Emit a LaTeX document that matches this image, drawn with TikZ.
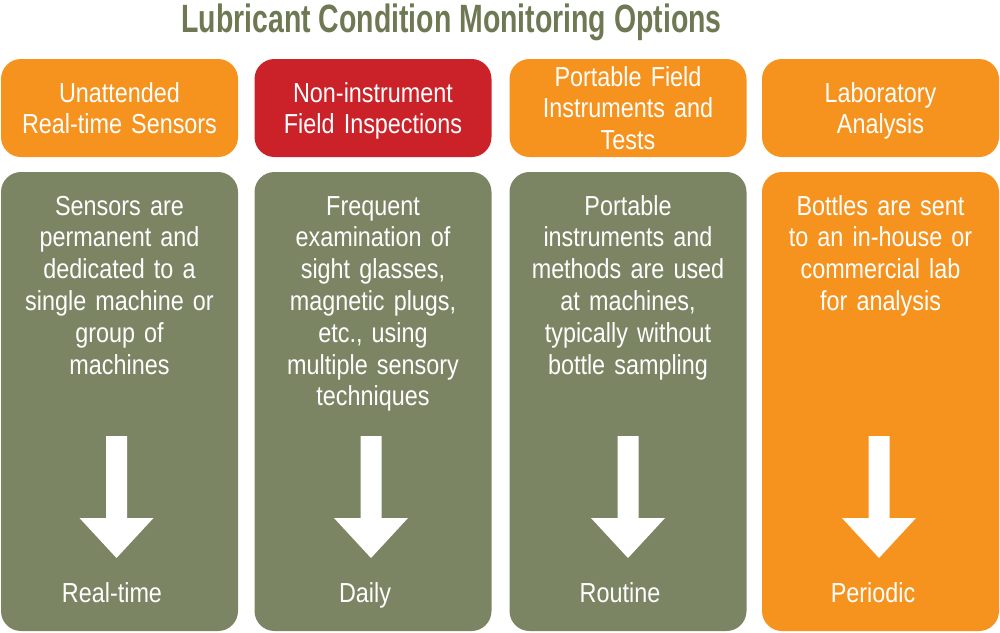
\documentclass[tikz,border=0pt]{standalone}
\usepackage{fontspec}
\setmainfont{Liberation Sans}
\newfontfamily\condfont[FakeStretch=0.85]{Liberation Sans}
\newfontfamily\titlefont[FakeStretch=0.72]{Liberation Sans}
\definecolor{olive}{RGB}{123,133,99}
\definecolor{titleolive}{RGB}{110,121,84}
\definecolor{lorange}{RGB}{246,147,30}
\definecolor{lred}{RGB}{203,34,42}
\tikzset{
  hdrbox/.style={rounded corners=20pt, minimum width=237pt, minimum height=98pt, inner sep=0pt},
  bodybox/.style={rounded corners=20pt, minimum width=237pt, minimum height=459pt, inner sep=0pt},
  hdrtext/.style={anchor=base, text=white, align=center, text width=230pt, inner sep=0pt,
    font=\condfont\fontsize{27.5}{31.5}\selectfont},
  bodytext/.style={anchor=base, text=white, align=center, text width=230pt, inner sep=0pt,
    font=\condfont\fontsize{27.5}{31.8}\selectfont},
  lbltext/.style={anchor=base, text=white, inner sep=0pt, font=\condfont\fontsize{27.5}{31.8}\selectfont},
  downarrow/.pic={\fill[white] (-10.5,0) -- (10.5,0) -- (10.5,82) -- (37,82) -- (0,122) -- (-37,82) -- (-10.5,82) -- cycle;}
}
\begin{document}
\begin{tikzpicture}[x=1pt,y=-1pt]
\useasboundingbox (0,0) rectangle (1000,632);
% title
\node[anchor=base, text=titleolive, inner sep=0pt, font=\titlefont\bfseries\fontsize{39.5}{42}\selectfont] (title) at (451.5,32) {Lubricant Condition Monitoring Options};
% header boxes
\node[hdrbox, fill=lorange] (h1) at (119.5,108) {};
\node[hdrbox, fill=lred]    (h2) at (373,108) {};
\node[hdrbox, fill=lorange] (h3) at (628,108) {};
\node[hdrbox, fill=lorange] (h4) at (880.5,108) {};
% body boxes
\node[bodybox, fill=olive]   (b1) at (119.5,401.5) {};
\node[bodybox, fill=olive]   (b2) at (373,401.5) {};
\node[bodybox, fill=olive]   (b3) at (628,401.5) {};
\node[bodybox, fill=lorange] (b4) at (880.5,401.5) {};
% header texts
\node[hdrtext] (h1t) at (119.5,102) {Unattended\\Real-time Sensors};
\node[hdrtext] (h2t) at (373,102) {Non-instrument\\Field Inspections};
\node[hdrtext] (h3t) at (628,86) {Portable Field\\Instruments and\\Tests};
\node[hdrtext] (h4t) at (880.5,102) {Laboratory\\Analysis};
% body texts
\node[bodytext] (b1t) at (119.5,215) {Sensors are\\permanent and\\dedicated to a\\single machine or\\group of\\machines};
\node[bodytext] (b2t) at (373,215) {Frequent\\examination of\\sight glasses,\\magnetic plugs,\\etc., using\\multiple sensory\\techniques};
\node[bodytext] (b3t) at (628,215) {Portable\\instruments and\\methods are used\\at machines,\\typically without\\bottle sampling};
\node[bodytext] (b4t) at (880.5,215) {Bottles are sent\\to an in-house or\\commercial lab\\for analysis};
% arrows
\pic at (116.5,436) {downarrow};
\pic at (371,436) {downarrow};
\pic at (628,436) {downarrow};
\pic at (879,436) {downarrow};
% bottom labels
\node[lbltext] (l1) at (112,602) {Real-time};
\node[lbltext] (l2) at (365,602) {Daily};
\node[lbltext] (l3) at (620,602) {Routine};
\node[lbltext] (l4) at (873,602) {Periodic};
\end{tikzpicture}
\end{document}
